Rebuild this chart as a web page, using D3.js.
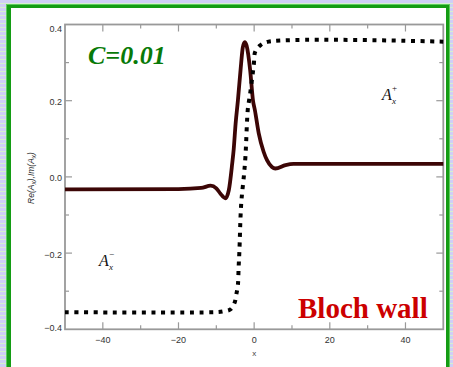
<!DOCTYPE html>
<html>
<head>
<meta charset="utf-8">
<script src="https://cdn.jsdelivr.net/npm/d3@7"></script>
<style>
  html, body { margin: 0; padding: 0; background: #fff; }
  svg { display: block; }
</style>
</head>
<body>
<svg id="chart" width="453" height="367"></svg>
<script>
// Axis ticks
const xMajor = [-40, -20, 0, 20, 40];
const xMinor = [-30, -10, 10, 30];
const yMajor = [-0.4, -0.2, 0.0, 0.2, 0.4];
const yMinor = [-0.3, -0.1, 0.1, 0.3];
const yTickLabels = ["\u22120.4", "\u22120.2", "0.0", "0.2", "0.4"];
const xTickLabels = ["\u221240", "\u221220", "0", "20", "40"];

// Dotted profile: step from A_x^- to A_x^+
const stepX = [-50, -10, -8.2, -6.3, -5.2, -4.7, -4.3, -4.1, -3.9, -3.6, -3.4, -3.2, -2.7, -2.3, -1.7, -1.4, -1.0, -0.1, 0.3, 1.7, 3.8, 50];
const stepY = [-0.355, -0.355, -0.353, -0.348, -0.331, -0.308, -0.284, -0.236, -0.195, -0.105, -0.067, -0.044, 0.004, 0.054, 0.175, 0.197, 0.223, 0.294, 0.329, 0.346, 0.355, 0.355];

// Solid profile across the wall
const wallX = [-50, -20, -14, -11.5, -10, -8.9, -7.6, -6.7, -5.8, -5.4, -4.9, -4.3, -3.6, -3.0, -2.5, -2.0, -1.05, -0.3, 0.2, 1.2, 2.5, 3.4, 4.7, 5.6, 8.3, 10.4, 50];
const wallY = [-0.033, -0.032, -0.029, -0.023, -0.030, -0.044, -0.056, -0.035, 0.035, 0.073, 0.14, 0.20, 0.28, 0.34, 0.354, 0.345, 0.28, 0.20, 0.175, 0.115, 0.066, 0.044, 0.026, 0.022, 0.031, 0.034, 0.034];

const W = 453, H = 367;
const svg = d3.select("#chart");

// Page background with horizontal stripes
const defs = svg.append("defs");
const pat = defs.append("pattern")
  .attr("id", "stripes").attr("patternUnits", "userSpaceOnUse")
  .attr("width", 8).attr("height", 4);
pat.append("rect").attr("width", 8).attr("height", 4).attr("fill", "#cfcff6");
pat.append("rect").attr("y", 3).attr("width", 8).attr("height", 1).attr("fill", "#d6f0cf");
svg.append("rect").attr("width", W).attr("height", H).attr("fill", "url(#stripes)");

// Green frame and white panel
svg.append("rect").attr("x", 6).attr("y", 4).attr("width", 444).attr("height", 380).attr("fill", "#5ccc5c");
svg.append("rect").attr("x", 7).attr("y", 5).attr("width", 442).attr("height", 380).attr("fill", "#149c14");
svg.append("rect").attr("x", 11).attr("y", 8).attr("width", 435).attr("height", 380).attr("fill", "#ffffff");

// Plot area
const pLeft = 65, pRight = 443.3, pTop = 24.5, pBottom = 329.3;
const x = d3.scaleLinear().domain([-50, 50]).range([pLeft, pRight]);
const y = d3.scaleLinear().domain([-0.4, 0.4]).range([pBottom, pTop]);

const axisColor = "#999999";
const majorLen = 7, minorLen = 4;
const g = svg.append("g");

// Frame around the plot
g.append("rect")
  .attr("x", pLeft).attr("y", pTop)
  .attr("width", pRight - pLeft).attr("height", pBottom - pTop)
  .attr("fill", "none").attr("stroke", axisColor).attr("stroke-width", 1.8);

// Inward ticks on all four sides
function xTicksAt(vals, len) {
  vals.forEach(v => {
    g.append("line").attr("x1", x(v)).attr("x2", x(v)).attr("y1", pBottom).attr("y2", pBottom - len)
      .attr("stroke", axisColor).attr("stroke-width", 1.2);
    g.append("line").attr("x1", x(v)).attr("x2", x(v)).attr("y1", pTop).attr("y2", pTop + len)
      .attr("stroke", axisColor).attr("stroke-width", 1.2);
  });
}
function yTicksAt(vals, len) {
  vals.forEach(v => {
    g.append("line").attr("x1", pLeft).attr("x2", pLeft + len).attr("y1", y(v)).attr("y2", y(v))
      .attr("stroke", axisColor).attr("stroke-width", 1.2);
    g.append("line").attr("x1", pRight).attr("x2", pRight - len).attr("y1", y(v)).attr("y2", y(v))
      .attr("stroke", axisColor).attr("stroke-width", 1.2);
  });
}
xTicksAt(xMajor, majorLen);
xTicksAt(xMinor, minorLen);
yTicksAt(yMajor.slice(1, -1), majorLen);
yTicksAt(yMinor, minorLen);

// Tick labels
const tickFont = "'Liberation Sans', Arial, sans-serif";
g.selectAll("text.xt").data(xMajor).enter().append("text")
  .attr("x", d => x(d)).attr("y", pBottom + 14)
  .attr("text-anchor", "middle")
  .attr("font-family", tickFont).attr("font-size", 9).attr("fill", "#333")
  .text((d, i) => xTickLabels[i]);
g.selectAll("text.yt").data(yMajor).enter().append("text")
  .attr("x", pLeft - 3)
  .attr("y", (d, i) => y(d) + (i === 0 ? 1.5 : (i === yMajor.length - 1 ? 7 : 4.5)))
  .attr("text-anchor", "end")
  .attr("font-family", tickFont).attr("font-size", 9).attr("fill", "#333")
  .text((d, i) => yTickLabels[i]);

// Axis titles
g.append("text").attr("x", x(0)).attr("y", 356)
  .attr("text-anchor", "middle").attr("font-family", tickFont)
  .attr("font-size", 8).attr("fill", "#444").text("x");

const yl = g.append("text")
  .attr("transform", "translate(34,178) rotate(-90)")
  .attr("text-anchor", "middle").attr("font-family", tickFont)
  .attr("font-size", 8.5).attr("font-style", "italic").attr("fill", "#333");
yl.append("tspan").text("Re(A");
yl.append("tspan").attr("dy", 2).attr("font-size", 6.5).text("x");
yl.append("tspan").attr("dy", -2).text("),Im(A");
yl.append("tspan").attr("dy", 2).attr("font-size", 6.5).text("x");
yl.append("tspan").attr("dy", -2).text(")");

// Curves
const line = d3.line()
  .x(d => x(d[0])).y(d => y(d[1]))
  .curve(d3.curveMonotoneX);

g.append("path")
  .datum(d3.zip(wallX, wallY))
  .attr("d", line)
  .attr("fill", "none").attr("stroke", "#3c0606")
  .attr("stroke-width", 3.8).attr("stroke-linejoin", "round");

const stepLine = d3.line()
  .x(d => x(d[0])).y(d => y(d[1]))
  .curve(d3.curveCatmullRom.alpha(0.5));
g.append("path")
  .datum(d3.zip(stepX, stepY))
  .attr("d", stepLine)
  .attr("fill", "none").attr("stroke", "#000")
  .attr("stroke-width", 4).attr("stroke-dasharray", "4 5.6");

// Labels A_x^+ and A_x^- (sub- and superscript stacked after the A)
const serif = "'Liberation Serif', 'Times New Roman', serif";
function ampLabel(px, py, sign) {
  g.append("text").attr("x", px).attr("y", py)
    .attr("font-family", serif).attr("font-style", "italic")
    .attr("font-size", 16).attr("fill", "#111").text("A");
  g.append("text").attr("x", px + 10).attr("y", py + 4)
    .attr("font-family", serif).attr("font-style", "italic")
    .attr("font-size", 9).attr("fill", "#111").text("x");
  g.append("text").attr("x", px + 10).attr("y", py - 9)
    .attr("font-family", serif)
    .attr("font-size", 9).attr("fill", "#111").text(sign);
}
ampLabel(382, 100, "+");
ampLabel(99, 266, "\u2212");

// Titles
svg.append("text").attr("x", 88).attr("y", 64)
  .attr("font-family", serif).attr("font-weight", "bold").attr("font-style", "italic")
  .attr("font-size", 26).attr("fill", "#087a08").text("C=0.01");
svg.append("text").attr("x", 298).attr("y", 318)
  .attr("font-family", serif).attr("font-weight", "bold")
  .attr("font-size", 29).attr("fill", "#cc0000").text("Bloch wall");
</script>
</body>
</html>
